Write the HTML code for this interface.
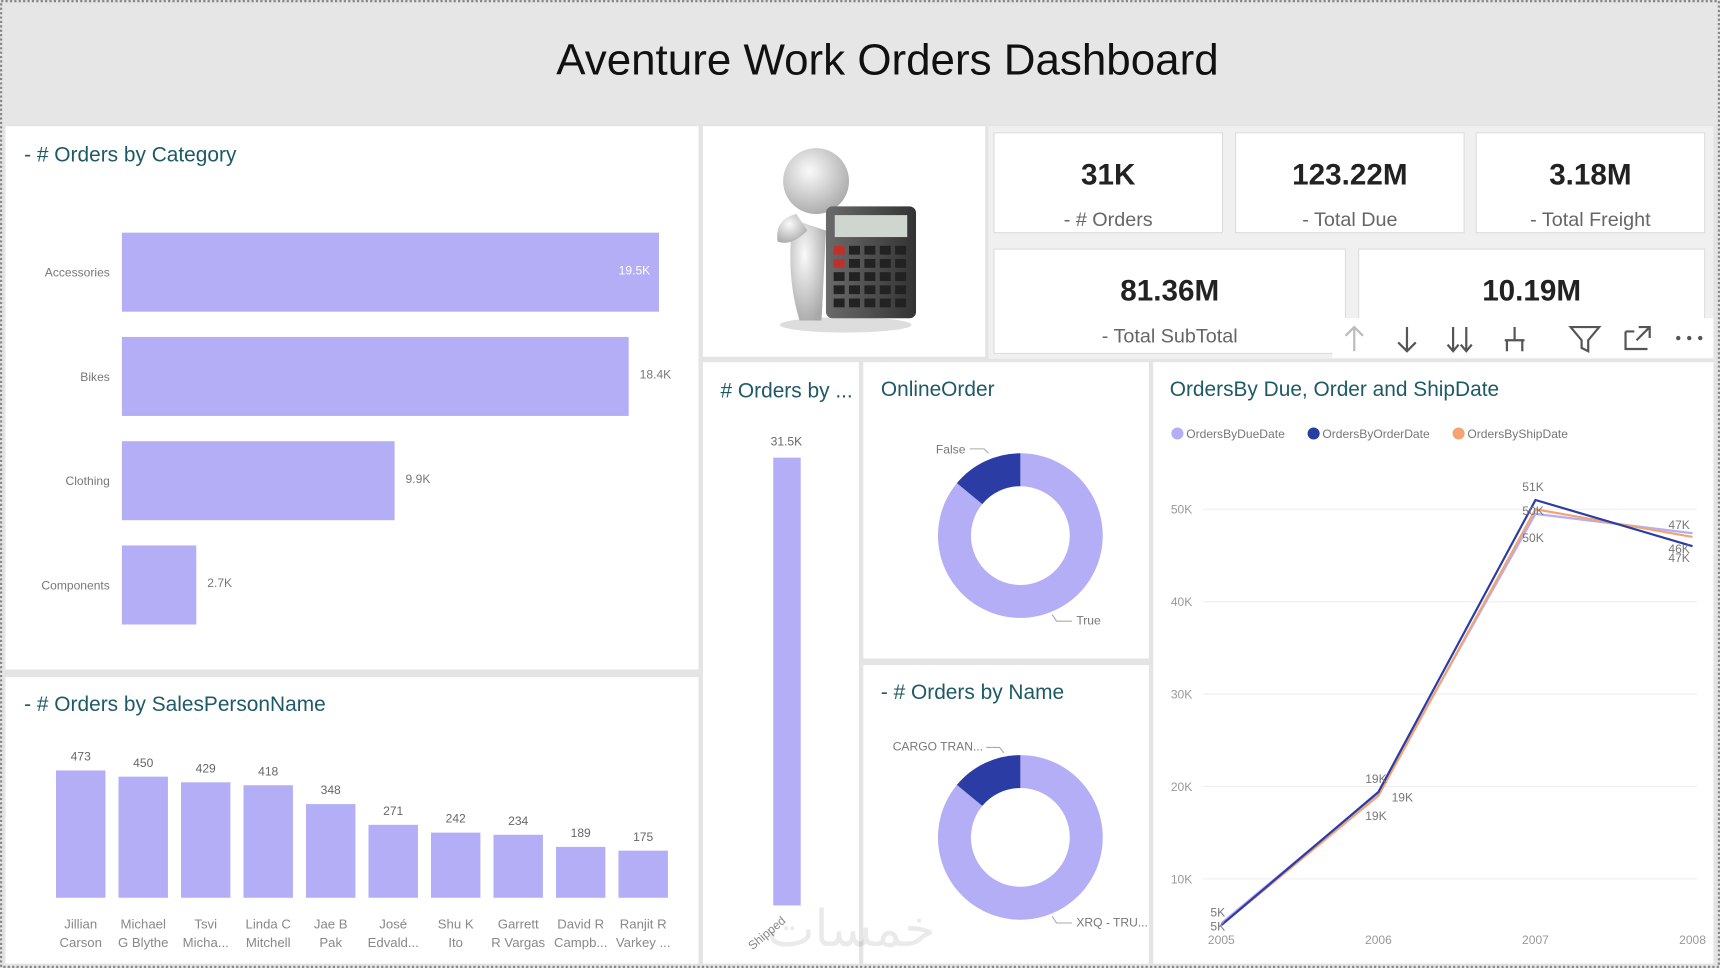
<!DOCTYPE html>
<html><head><meta charset="utf-8"><style>
html,body{margin:0;padding:0;background:#e4e4e4;}
svg{display:block;font-family:"Liberation Sans","DejaVu Sans",sans-serif;}
</style></head><body>
<svg id="dash" width="1720" height="968" viewBox="0 0 1566 882" preserveAspectRatio="none" xmlns="http://www.w3.org/2000/svg">
<rect x="0" y="0" width="1566" height="882" fill="#e4e4e4"/>
<rect x="1" y="1" width="1564" height="880" fill="none" stroke="#888" stroke-width="2" stroke-dasharray="2,2"/>
<g>
<rect x="3" y="3" width="1560" height="110" fill="#e6e6e6"/>
<text x="808" y="68" font-size="40" text-anchor="middle" fill="#111">Aventure Work Orders Dashboard</text>
</g>
<rect x="5" y="115" width="631" height="495" fill="#fff"/>
<rect x="5" y="617" width="631" height="261" fill="#fff"/>
<rect x="640" y="115" width="257" height="210" fill="#fff"/>
<rect x="640" y="330" width="142" height="548" fill="#fff"/>
<rect x="786" y="330" width="260" height="270" fill="#fff"/>
<rect x="786" y="606" width="260" height="272" fill="#fff"/>
<rect x="1050" y="330" width="510" height="548" fill="#fff"/>
<rect x="900" y="115" width="660" height="212" fill="#f0f0f0"/>
<g font-size="19" fill="#1e5a66">
<text x="22" y="147">- # Orders by Category</text>
<text x="22" y="648">- # Orders by SalesPersonName</text>
<text x="656" y="362"># Orders by ...</text>
<text x="802" y="361">OnlineOrder</text>
<text x="802" y="637">- # Orders by Name</text>
<text x="1065" y="361">OrdersBy Due, Order and ShipDate</text>
</g>
<g id="kpis"></g>
<g>
<defs>
<radialGradient id="gh" cx="40%" cy="35%" r="70%"><stop offset="0" stop-color="#fafafa"/><stop offset="1" stop-color="#a8a8a8"/></radialGradient>
<linearGradient id="gc" x1="0" x2="1"><stop offset="0" stop-color="#6a6a6a"/><stop offset="1" stop-color="#333"/></linearGradient>
</defs>
<ellipse cx="770" cy="296" rx="60" ry="7" fill="#ddd"/>
<path d="M722 200 Q715 250 728 292 L748 292 L752 210 Z" fill="url(#gh)"/>
<path d="M725 195 Q705 200 708 220 Q720 225 735 210 Z" fill="url(#gh)"/>
<circle cx="743" cy="165" r="30" fill="url(#gh)"/>
<rect x="752" y="188" width="82" height="102" rx="6" fill="url(#gc)"/>
<rect x="760" y="196" width="66" height="20" fill="#cfd6cf"/>
<g id="calcbtn"></g>
</g>
<g stroke="#555" stroke-width="2" fill="none">
<rect x="1213" y="290" width="347" height="36" fill="#fff" stroke="none"/>
<path d="M1233 320 V298 M1225 306 L1233 298 L1241 306" stroke="#bbb"/>
<path d="M1281 298 V320 M1273 312 L1281 320 L1289 312"/>
<path d="M1323 298 V320 M1335 298 V320 M1318 314 L1323 320 L1328 314 M1330 314 L1335 320 L1340 314"/>
<path d="M1379 298 V310 M1370 310 H1388 M1372 310 V320 M1386 310 V320"/>
<path d="M1430 298 H1456 L1446 310 V320 L1440 317 V310 Z"/>
<path d="M1480 302 V318 H1500 M1480 302 H1488 M1492 298 H1502 V308 M1502 298 L1490 310"/>
<g fill="#555" stroke="none"><circle cx="1528" cy="308" r="2"/><circle cx="1538" cy="308" r="2"/><circle cx="1548" cy="308" r="2"/></g>
</g>
<g id="catchart"></g>
<g id="spchart"></g>
<g id="statchart"></g>
<g id="donut1"></g>
<g id="donut2"></g>
<g id="linechart"></g>
<text x="775" y="862" font-size="46" fill="#000" opacity="0.08" text-anchor="middle" font-family="'DejaVu Sans',sans-serif">خمسات</text>
</svg>
<script>
const categories=["Accessories","Bikes","Clothing","Components"];
const categoryValues=[19.5,18.4,9.9,2.7];
const categoryLabels=["19.5K","18.4K","9.9K","2.7K"];
const salesFirst=["Jillian","Michael","Tsvi","Linda C","Jae B","José","Shu K","Garrett","David R","Ranjit R"];
const salesSecond=["Carson","G Blythe","Micha...","Mitchell","Pak","Edvald...","Ito","R Vargas","Campb...","Varkey ..."];
const salesValues=[473,450,429,418,348,271,242,234,189,175];
const statusCats=["Shipped"];
const statusValues=[31.5];
const onlineCats=["True","False"];
const onlineValues=[86,14];
const nameCats=["XRQ - TRU...","CARGO TRAN..."];
const nameValues=[86,14];
const years=["2005","2006","2007","2008"];
const dueValues=[5.2,19.3,49.5,47.4];
const orderValues=[5.0,19.4,51.0,46.0];
const shipValues=[5.0,19.0,50.0,47.0];
const yTicks=[10,20,30,40,50];
const kpiValues=["31K","123.22M","3.18M","81.36M","10.19M"];
const kpiLabels=["- # Orders","- Total Due","- Total Freight","- Total SubTotal",""];

const NS="http://www.w3.org/2000/svg";
const LIGHT="#b3aef5",DARK="#2b3da5",ORANGE="#f2a472";
function mk(tag,attrs,parent,txt){const e=document.createElementNS(NS,tag);for(const k in attrs)e.setAttribute(k,attrs[k]);if(txt!==undefined)e.textContent=txt;parent.appendChild(e);return e;}

(function(){const g=document.getElementById('kpis');
const boxes=[[905,121,208,91],[1125,121,208,91],[1344,121,208,91],[905,227,320,95],[1237,227,315,95]];
boxes.forEach((b,i)=>{
 const r=mk('rect',{x:b[0],y:b[1],width:b[2],height:b[3],fill:'#fff',stroke:'#ddd'},g);
 
 
 const t=mk('text',{x:b[0]+b[2]/2,y:b[1]+47,'font-size':27,'font-weight':'bold','text-anchor':'middle',fill:'#222'},g,kpiValues[i]);
 
 
 const l=mk('text',{x:b[0]+b[2]/2,y:b[1]+85,'font-size':18,'text-anchor':'middle',fill:'#666'},g,kpiLabels[i]);
 
 
});})();

(function(){const g=document.getElementById('calcbtn');
for(let r=0;r<5;r++)for(let c=0;c<5;c++){
 const red=(c==0&&r<2);
 const b=mk('rect',{x:759+c*14,y:224+r*12,width:10,height:8,fill:red?'#c0302a':'#222'},g);
 
 
}})();

(function(){const g=document.getElementById('catchart');
const x0=111,px=489/19.5;const xs=v=>x0+v*px;
categories.forEach((c,i)=>{const y=212+i*95;
 const r=mk('rect',{x:x0,y:y,width:xs(categoryValues[i])-x0,height:72,fill:LIGHT},g);
 
 
 const t=mk('text',{x:100,y:y+40,'font-size':11,'text-anchor':'end',fill:'#777'},g,c);
 
 
 const inside=i==0;
 const v=mk('text',{x:inside?xs(categoryValues[i])-8:xs(categoryValues[i])+10,y:y+38,'font-size':11,'text-anchor':inside?'end':'start',fill:inside?'#fff':'#777'},g,categoryLabels[i]);
 
 
});})();

(function(){const g=document.getElementById('spchart');
const base=818,py=116/473;
salesValues.forEach((v,i)=>{const x=51+i*56.9,h=v*py;
 const r=mk('rect',{x:x,y:base-h,width:45,height:h,fill:LIGHT},g);
 
 
 const t=mk('text',{x:x+22.5,y:base-h-9,'font-size':11,'text-anchor':'middle',fill:'#666'},g,String(v));
 
 
 const a=mk('text',{x:x+22.5,y:846,'font-size':12,'text-anchor':'middle',fill:'#888'},g,salesFirst[i]);
 
 
 const b=mk('text',{x:x+22.5,y:863,'font-size':12,'text-anchor':'middle',fill:'#888'},g,salesSecond[i]);
 
 
});})();

(function(){const g=document.getElementById('statchart');
const base=825,py=408/31.5;
statusValues.forEach((v,i)=>{const h=v*py;
 const r=mk('rect',{x:704,y:base-h,width:25,height:h,fill:LIGHT},g);
 
 
 const t=mk('text',{x:716,y:base-h-11,'font-size':11,'text-anchor':'middle',fill:'#666'},g,v+'K');
 
 
 const c=mk('text',{x:716,y:840,'font-size':11,'text-anchor':'end',fill:'#888',transform:'rotate(-40 716 840)'},g,statusCats[i]);
 
 
});})();

function donut(id,cx,cy,cats,vals,lab){const g=document.getElementById(id);
 const tot=vals.reduce((a,b)=>a+b,0);const R=75,r=45;
 let a0=0;
 vals.forEach((v,i)=>{const a1=a0+v/tot*2*Math.PI;
  const p=(a,rr)=>[cx+rr*Math.sin(a),cy-rr*Math.cos(a)];
  const [x1,y1]=p(a0,R),[x2,y2]=p(a1,R),[x3,y3]=p(a1,r),[x4,y4]=p(a0,r);
  const big=(a1-a0)>Math.PI?1:0;
  const s=mk('path',{d:`M${x1} ${y1} A${R} ${R} 0 ${big} 1 ${x2} ${y2} L${x3} ${y3} A${r} ${r} 0 ${big} 0 ${x4} ${y4} Z`,fill:i==0?LIGHT:DARK},g);
  
  
  a0=a1;});
 const l1=mk('text',{x:lab[0][0],y:lab[0][1],'font-size':11,fill:'#777'},g,cats[0]);
 
 
 mk('path',{d:lab[0][2],stroke:'#aaa',fill:'none'},g);
 const l2=mk('text',{x:lab[1][0],y:lab[1][1],'font-size':11,fill:'#777','text-anchor':'end'},g,cats[1]);
 
 
 mk('path',{d:lab[1][2],stroke:'#aaa',fill:'none'},g);
}
donut('donut1',929,488,onlineCats,onlineValues,[[980,569,'M958 560 L962 566 L976 566'],[879,413,'M883 409 L896 409 L900 413']]);
donut('donut2',929,763,nameCats,nameValues,[[980,844,'M958 835 L962 841 L976 841'],[895,684,'M898 681 L910 681 L914 686']]);

(function(){const g=document.getElementById('linechart');
const xL=1112,xR=1541,yb=885,py=84.2/10;
const xs=i=>xL+i*(xR-xL)/(years.length-1);const ys=v=>yb-v*py;
yTicks.forEach(t=>{mk('line',{x1:1095,x2:1545,y1:ys(t),y2:ys(t),stroke:'#eee'},g);
 const e=mk('text',{x:1066,y:ys(t)+4,'font-size':11,fill:'#999'},g,t+'K');
 
 });
years.forEach((y,i)=>{const e=mk('text',{x:xs(i),y:860,'font-size':11,fill:'#999','text-anchor':'middle'},g,y);
 
 });
const series=[["due",dueValues,LIGHT],["ship",shipValues,ORANGE],["order",orderValues,DARK]];
series.forEach(s=>{const d=s[1].map((v,i)=>(i?'L':'M')+xs(i)+' '+ys(v)).join(' ');
 const p=mk('path',{d:d,stroke:s[2],'stroke-width':2,fill:'none'},g);
 
 });
const labs=[[0,dueValues,-10,-6],[0,orderValues,-10,5],[1,orderValues,-12,-8],[1,dueValues,12,8],[1,shipValues,-12,22],
 [2,orderValues,-12,-8],[2,dueValues,-12,1],[2,shipValues,-12,30],[3,dueValues,-22,-4],[3,orderValues,-22,6],[3,shipValues,-22,23]];
labs.forEach(l=>{const v=l[1][l[0]];const e=mk('text',{x:xs(l[0])+l[2],y:ys(v)+l[3],'font-size':11,fill:'#777'},g,Math.round(v)+'K');
 
 });
const leg=[["OrdersByDueDate",LIGHT,1066],["OrdersByOrderDate",DARK,1190],["OrdersByShipDate",ORANGE,1322]];
leg.forEach(l=>{const c=mk('circle',{cx:l[2]+6,cy:395,r:5.5,fill:l[1]},g);
 
 
 const t=mk('text',{x:l[2]+14,y:399,'font-size':11,fill:'#777'},g,l[0]);
 
 });
})();
</script>
</body></html>
